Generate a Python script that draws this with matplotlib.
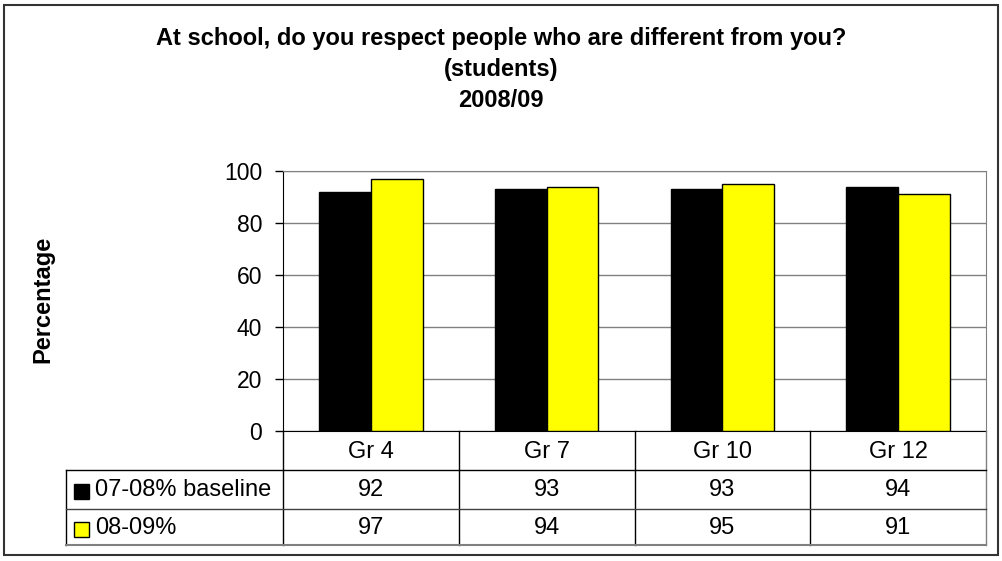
import matplotlib
matplotlib.use("Agg")
import matplotlib.pyplot as plt
import numpy as np
from matplotlib.patches import Rectangle
from matplotlib.lines import Line2D

plt.rcParams['font.family'] = ['Liberation Sans', 'DejaVu Sans']

# data
grades = ["Gr 4", "Gr 7", "Gr 10", "Gr 12"]
series_names = ["07-08% baseline", "08-09%"]
baseline = [92, 93, 93, 94]
current = [97, 94, 95, 91]
colors = ["#000000", "#FFFF00"]

W, H = 1002, 561
fig = plt.figure(figsize=(W / 100, H / 100), dpi=100)


def fx(x):
    return x / W


def fy(y):
    return 1 - y / H


# plot area in pixel terms
left, right, top, bottom = 283, 986, 171, 431
ax = fig.add_axes([fx(left), fy(bottom), fx(right) - fx(left), fy(top) - fy(bottom)])

x = np.arange(len(grades))
bw = 0.295
ax.bar(x - bw / 2, baseline, bw, color=colors[0], edgecolor="black", linewidth=1, zorder=3)
ax.bar(x + bw / 2, current, bw, color=colors[1], edgecolor="black", linewidth=1, zorder=3)

ax.set_xlim(-0.5, len(grades) - 0.5)
ax.set_ylim(0, 100)
ax.set_yticks(range(0, 101, 20))
ax.yaxis.grid(True, color="#808080", linewidth=1, zorder=0)
ax.set_xticks([])
ax.tick_params(axis="y", labelsize=16.5, length=6, width=1, direction="out", pad=9)
for s in ["top", "right"]:
    ax.spines[s].set_color("#808080")
ax.spines["left"].set_color("black")
ax.spines["bottom"].set_color("black")

# title and y label
fs = 17
fig.text(0.5, fy(45), "At school, do you respect people who are different from you?",
         ha="center", va="baseline", fontsize=fs, fontweight="bold")
fig.text(0.5, fy(76), "(students)", ha="center", va="baseline", fontsize=fs, fontweight="bold")
fig.text(0.5, fy(107), "2008/09", ha="center", va="baseline", fontsize=fs, fontweight="bold")
fig.text(fx(43), fy(299), "Percentage", rotation=90, ha="center", va="center",
         fontsize=fs, fontweight="bold")

# data table under the axis
row_y = [431, 470, 509, 545]
tab_left = 66
col_w = (right - left) / len(grades)


def hline(y, x0, x1, color="black", lw=1):
    fig.add_artist(Line2D([fx(x0), fx(x1)], [fy(y), fy(y)], color=color, lw=lw))


def vline(x0, y0, y1, color="black", lw=1):
    fig.add_artist(Line2D([fx(x0), fx(x0)], [fy(y0), fy(y1)], color=color, lw=lw))


for i in range(len(grades) + 1):
    vline(left + i * col_w, row_y[0], row_y[3], color="black" if i < len(grades) else "#808080")
vline(tab_left, row_y[1], row_y[3])
hline(row_y[1], tab_left, right)
hline(row_y[2], tab_left, right, color="#404040")
hline(row_y[3], tab_left, right, color="#808080", lw=1.5)

tfs = 17
for i, g in enumerate(grades):
    cx = left + (i + 0.5) * col_w
    fig.text(fx(cx), fy((row_y[0] + row_y[1]) / 2 + 1), g, ha="center", va="center", fontsize=tfs)
    fig.text(fx(cx), fy((row_y[1] + row_y[2]) / 2 + 1), str(baseline[i]), ha="center", va="center", fontsize=tfs)
    fig.text(fx(cx), fy((row_y[2] + row_y[3]) / 2 + 1), str(current[i]), ha="center", va="center", fontsize=tfs)

for r, name in enumerate(series_names):
    cy = (row_y[r + 1] + row_y[r + 2]) / 2 + 2
    sq = 15
    fig.add_artist(Rectangle((fx(74), fy(cy + sq / 2)), fx(sq), sq / H,
                             facecolor=colors[r], edgecolor="black", lw=1))
    fig.text(fx(95), fy(cy - 1), name, ha="left", va="center", fontsize=tfs)

# outer chart border
fig.add_artist(Rectangle((fx(4), fy(555)), fx(994), 550 / H, fill=False,
                         edgecolor="#333333", lw=1.5))

fig.savefig("out.png", dpi=100)
